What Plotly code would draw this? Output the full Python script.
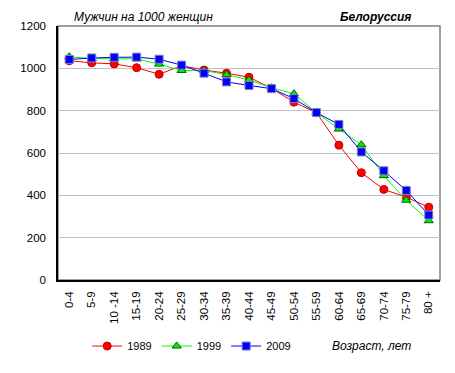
import plotly.graph_objects as go

categories = ["0-4", "5-9", "10 -14", "15-19", "20-24", "25-29", "30-34", "35-39",
              "40-44", "45-49", "50-54", "55-59", "60-64", "65-69", "70-74", "75-79", "80 +"]
v1989 = [1036, 1026, 1021, 1003, 972, 1012, 992, 977, 958, 906, 840, 791, 637, 507, 428, 391, 344]
v1999 = [1055, 1046, 1045, 1045, 1020, 990, 990, 970, 945, 908, 880, 791, 713, 639, 493, 377, 280]
v2009 = [1042, 1049, 1052, 1053, 1043, 1015, 977, 936, 919, 904, 857, 791, 735, 605, 516, 423, 307]

fig = go.Figure()
fig.add_trace(go.Scatter(x=categories, y=v1989, name="1989", mode="lines+markers",
                         line=dict(color="#ff0000", width=1),
                         marker=dict(symbol="circle", size=8, color="#ff0000",
                                     line=dict(color="#c00000", width=1))))
fig.add_trace(go.Scatter(x=categories, y=v1999, name="1999", mode="lines+markers",
                         line=dict(color="#00ff00", width=1),
                         marker=dict(symbol="triangle-up", size=8, color="#00ee00",
                                     line=dict(color="#006000", width=1))))
fig.add_trace(go.Scatter(x=categories, y=v2009, name="2009", mode="lines+markers",
                         line=dict(color="#0000ff", width=1),
                         marker=dict(symbol="square", size=8, color="#0000ff",
                                     line=dict(color="#8080c0", width=1))))

fig.update_layout(
    width=447, height=365,
    margin=dict(l=43, r=15, t=18, b=90),
    paper_bgcolor="white", plot_bgcolor="white",
    font=dict(family="Arial, Liberation Sans, sans-serif", size=11, color="black"),
    showlegend=True,
    legend=dict(orientation="h", x=0.35, xanchor="center", y=-0.26, yanchor="middle",
                font=dict(size=11), itemwidth=30, tracegroupgap=0),
    xaxis=dict(type="category", tickangle=-90, showgrid=False, showline=True,
               linecolor="black", linewidth=1.5, ticks="", range=[-0.5, 16.5],
               tickfont=dict(size=11.5), ticklabelstandoff=5),
    yaxis=dict(range=[0, 1200], dtick=200, showgrid=True, gridcolor="#c0c0c0",
               gridwidth=1, showline=True, linecolor="black", linewidth=1.5,
               ticks="", zeroline=False, tickfont=dict(size=11.5), ticklabelstandoff=8),
    shapes=[dict(type="rect", xref="paper", yref="paper", x0=0, y0=0, x1=1, y1=1,
                 line=dict(color="#808080", width=1.5), layer="below")],
    annotations=[
        dict(text="<i>Мужчин на 1000 женщин</i>", xref="paper", yref="paper",
             x=0.036, y=1.0, xanchor="left", yanchor="bottom", showarrow=False,
             font=dict(size=12)),
        dict(text="<b><i>Белоруссия</i></b>", xref="paper", yref="paper",
             x=0.93, y=1.0, xanchor="right", yanchor="bottom", showarrow=False,
             font=dict(size=12)),
        dict(text="<i>Возраст, лет</i>", xref="paper", yref="paper",
             x=0.93, y=-0.26, xanchor="right", yanchor="middle", showarrow=False,
             font=dict(size=12)),
    ],
)

fig.write_html("out.html")
